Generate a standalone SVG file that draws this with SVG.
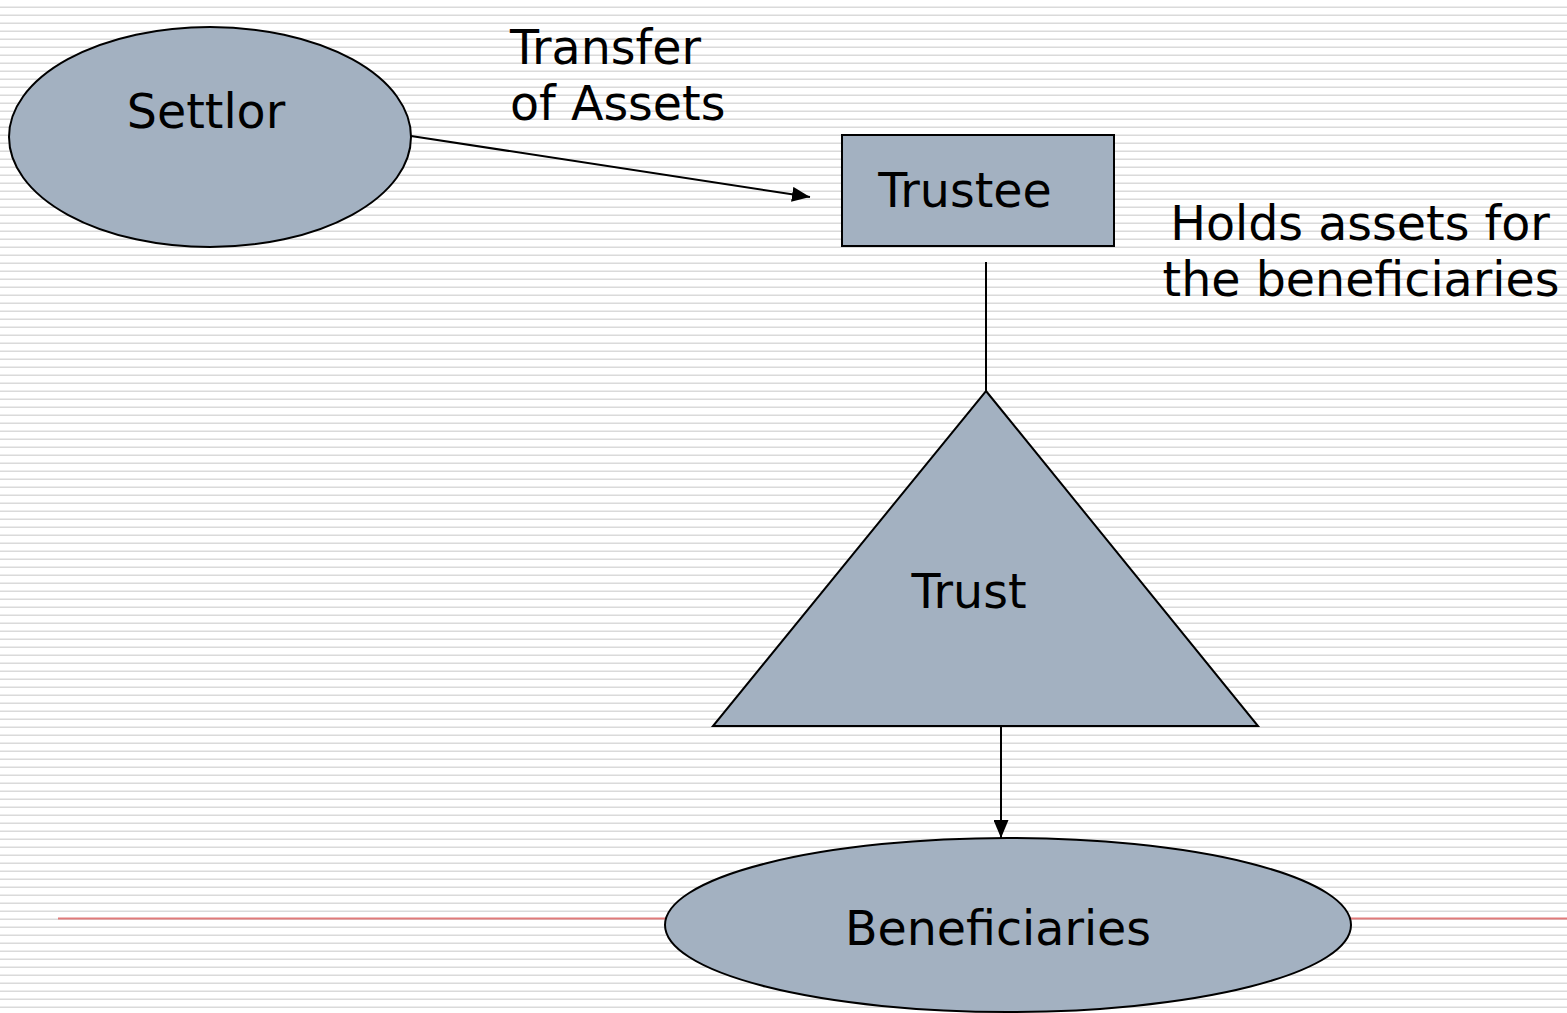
<svg xmlns="http://www.w3.org/2000/svg" width="1567" height="1013" viewBox="0 0 1567 1013">
  <defs>
    <pattern id="stripes" x="0" y="0" width="8" height="8" patternUnits="userSpaceOnUse">
      <rect x="0" y="6.5" width="8" height="2" fill="#dadada"/>
    </pattern>
    <marker id="arrow" viewBox="0 0 18 15" refX="18" refY="7.5" markerWidth="18" markerHeight="15" markerUnits="userSpaceOnUse" orient="auto">
      <path d="M0,0 L18,7.5 L0,15 Z" fill="#000"/>
    </marker>
    <style>
      .shape { fill: #a3b1c1; stroke: #000; stroke-width: 2; }
      .label { font-family: "DejaVu Sans", Verdana, sans-serif; font-size: 47.5px; fill: #000; }
      .edge { stroke: #000; stroke-width: 2; fill: none; }
    </style>
  </defs>

  <!-- lined background -->
  <rect width="1567" height="1013" fill="#fff"/>
  <rect width="1567" height="1013" fill="url(#stripes)"/>
  <line x1="58" y1="918.5" x2="1567" y2="918.5" stroke="#e07a7a" stroke-width="2"/>

  <g id="connectors">
    <line class="edge" x1="411" y1="136" x2="810" y2="197" marker-end="url(#arrow)"/>
    <line class="edge" x1="986" y1="262" x2="986" y2="391"/>
    <line class="edge" x1="1001" y1="726" x2="1001" y2="838" marker-end="url(#arrow)"/>
  </g>

  <g id="settlor">
    <ellipse class="shape" cx="210" cy="137" rx="201" ry="110"/>
    <text class="label" x="206" y="128" text-anchor="middle">Settlor</text>
  </g>

  <g id="transfer-label">
    <text class="label" x="510" y="64">Transfer</text>
    <text class="label" x="510" y="120">of Assets</text>
  </g>

  <g id="trustee">
    <rect class="shape" x="842" y="135" width="272" height="111"/>
    <text class="label" x="965" y="207" text-anchor="middle">Trustee</text>
  </g>

  <g id="holds-label">
    <text class="label" x="1360" y="240" text-anchor="middle">Holds assets for</text>
    <text class="label" x="1361" y="296" text-anchor="middle">the beneficiaries</text>
  </g>

  <g id="trust">
    <polygon class="shape" points="986,391 1258,726 713,726"/>
    <text class="label" x="969" y="608" text-anchor="middle">Trust</text>
  </g>

  <g id="beneficiaries">
    <ellipse class="shape" cx="1008" cy="925" rx="343" ry="87"/>
    <text class="label" x="998" y="945" text-anchor="middle">Beneficiaries</text>
  </g>
</svg>
